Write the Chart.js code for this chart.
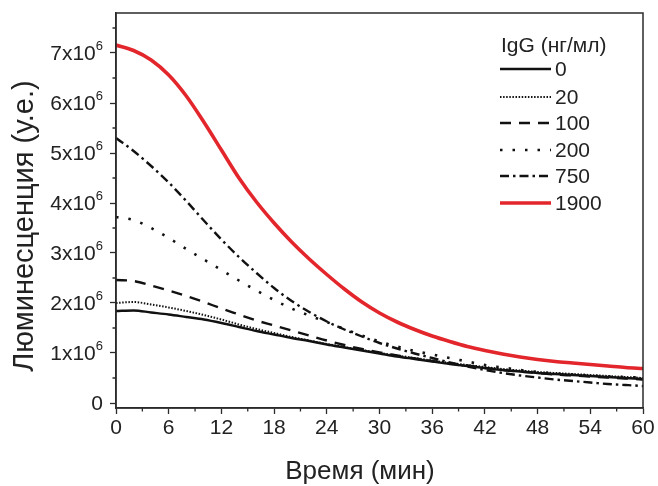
<!DOCTYPE html>
<html>
<head>
<meta charset="utf-8">
<script src="https://cdn.jsdelivr.net/npm/chart.js@4.4.1/dist/chart.umd.min.js"></script>
<style>
  html, body { margin: 0; padding: 0; background: #fff; }
  #wrap { width: 658px; height: 486px; }
</style>
</head>
<body>
<div id="wrap"><canvas id="grafico"></canvas></div>
<script>
// время, мин
const tempo = [0, 2, 4, 6, 8, 10, 12, 14, 16, 18, 20, 22, 24, 26, 28, 30,
  32, 34, 36, 38, 40, 42, 44, 46, 48, 50, 52, 54, 56, 58, 60];

// люминесценция, x10^6 у.е., по концентрации IgG (нг/мл)
const igg0 = [1.84, 1.85, 1.81, 1.77, 1.72, 1.67, 1.60, 1.52, 1.44, 1.37, 1.30, 1.24, 1.17, 1.11, 1.05, 0.99,
  0.93, 0.88, 0.83, 0.78, 0.74, 0.70, 0.66, 0.63, 0.60, 0.58, 0.56, 0.54, 0.52, 0.50, 0.48];
const igg20 = [2.00, 2.02, 1.97, 1.91, 1.84, 1.76, 1.67, 1.57, 1.48, 1.40, 1.32, 1.25, 1.18, 1.12, 1.06, 1.00,
  0.95, 0.90, 0.85, 0.80, 0.76, 0.72, 0.68, 0.65, 0.62, 0.60, 0.58, 0.56, 0.54, 0.52, 0.50];
const igg100 = [2.46, 2.44, 2.35, 2.25, 2.14, 2.02, 1.89, 1.77, 1.65, 1.55, 1.45, 1.35, 1.25, 1.16, 1.08, 1.01,
  0.95, 0.89, 0.84, 0.79, 0.75, 0.70, 0.66, 0.63, 0.60, 0.57, 0.55, 0.53, 0.51, 0.49, 0.47];
const igg200 = [3.72, 3.66, 3.50, 3.30, 3.08, 2.87, 2.66, 2.45, 2.25, 2.06, 1.89, 1.75, 1.62, 1.48, 1.35, 1.23,
  1.13, 1.04, 0.97, 0.90, 0.83, 0.76, 0.71, 0.66, 0.62, 0.59, 0.57, 0.55, 0.53, 0.52, 0.51];
const igg750 = [5.30, 5.04, 4.74, 4.41, 4.04, 3.65, 3.27, 2.92, 2.60, 2.30, 2.04, 1.82, 1.63, 1.47, 1.33, 1.20,
  1.09, 0.99, 0.90, 0.81, 0.73, 0.66, 0.60, 0.55, 0.51, 0.47, 0.44, 0.41, 0.38, 0.36, 0.34];
const igg1900 = [7.16, 7.05, 6.86, 6.56, 6.14, 5.62, 5.06, 4.50, 4.02, 3.60, 3.22, 2.88, 2.57, 2.28, 2.02, 1.80,
  1.62, 1.47, 1.34, 1.23, 1.13, 1.05, 0.98, 0.92, 0.87, 0.83, 0.80, 0.77, 0.74, 0.71, 0.69];

const rotulos = ["0", "20", "100", "200", "750", "1900"];
const yTicks = [0, 1, 2, 3, 4, 5, 6, 7];

const FONTE = "Arial, 'Liberation Sans', sans-serif";
const COR_EIXO = "#2b2b2b";

function serie(vals) {
  return vals.map((v, i) => ({ x: tempo[i], y: v }));
}

const estilos = [
  { dados: igg0, cor: "#111", largura: 2.4, traco: [] },
  { dados: igg20, cor: "#111", largura: 2, traco: [1.5, 1.6] },
  { dados: igg100, cor: "#111", largura: 2.4, traco: [11, 8] },
  { dados: igg200, cor: "#111", largura: 2.6, traco: [2.5, 10] },
  { dados: igg750, cor: "#111", largura: 2.4, traco: [9, 4, 2.5, 4] },
  { dados: igg1900, cor: "#e3262b", largura: 3.6, traco: [] },
];

// moldura, ticks menores, rótulos do eixo y com expoente, títulos e legenda
const extras = {
  id: "extras",
  afterDraw(chart) {
    const { ctx, chartArea: a, scales } = chart;
    const sx = scales.x, sy = scales.y;
    ctx.save();

    ctx.strokeStyle = COR_EIXO;
    ctx.lineWidth = 1.5;
    ctx.strokeRect(a.left, a.top, a.right - a.left, a.bottom - a.top);

    // ticks menores
    ctx.lineWidth = 1.3;
    ctx.beginPath();
    for (let t = 3; t < 60; t += 6) {
      const px = sx.getPixelForValue(t);
      ctx.moveTo(px, a.bottom);
      ctx.lineTo(px, a.bottom + 3.5);
    }
    for (let v = 0.5; v < 7.8; v += 1) {
      const py = sy.getPixelForValue(v);
      ctx.moveTo(a.left, py);
      ctx.lineTo(a.left - 3.5, py);
    }
    ctx.stroke();

    // rótulos y: Nx10^6
    ctx.fillStyle = "#222";
    ctx.textBaseline = "middle";
    ctx.textAlign = "right";
    const xr = a.left - 13;
    yTicks.forEach(v => {
      const py = sy.getPixelForValue(v) + 1;
      if (v === 0) {
        ctx.font = "21px " + FONTE;
        ctx.fillText("0", xr, py);
        return;
      }
      ctx.font = "13px " + FONTE;
      const wExp = ctx.measureText("6").width;
      ctx.fillText("6", xr, py - 8);
      ctx.font = "21px " + FONTE;
      ctx.fillText(v + "x10", xr - wExp, py);
    });

    // títulos dos eixos
    ctx.textAlign = "center";
    ctx.textBaseline = "alphabetic";
    ctx.font = "26px " + FONTE;
    ctx.fillText("Время (мин)", 360, 479);
    ctx.save();
    ctx.translate(33, 226);
    ctx.rotate(-Math.PI / 2);
    ctx.font = "29px " + FONTE;
    ctx.fillText("Люминесценция (у.е.)", 0, 0);
    ctx.restore();

    // legenda
    ctx.font = "21px " + FONTE;
    ctx.textAlign = "left";
    ctx.textBaseline = "middle";
    ctx.fillText("IgG (нг/мл)", 501, 46);
    const linhas = [69, 97, 123, 150, 176, 203];
    chart.data.datasets.forEach((ds, i) => {
      const y = linhas[i];
      ctx.strokeStyle = ds.borderColor;
      ctx.lineWidth = ds.borderWidth;
      ctx.setLineDash(ds.borderDash);
      ctx.beginPath();
      ctx.moveTo(500, y);
      ctx.lineTo(551, y);
      ctx.stroke();
      ctx.setLineDash([]);
      ctx.fillStyle = "#222";
      ctx.font = "21px " + FONTE;
      ctx.fillText(ds.label, 555, y + 1);
    });

    ctx.restore();
  }
};

new Chart(document.getElementById("grafico"), {
  type: "line",
  data: {
    datasets: estilos.map((e, i) => ({
      label: rotulos[i],
      data: serie(e.dados),
      borderColor: e.cor,
      borderWidth: e.largura,
      borderDash: e.traco,
      pointRadius: 0,
      fill: false,
      cubicInterpolationMode: "monotone",
    }))
  },
  options: {
    responsive: true,
    maintainAspectRatio: false,
    animation: false,
    layout: { padding: { left: 0, top: 13, right: 15, bottom: 0 } },
    plugins: { legend: { display: false }, tooltip: { enabled: false } },
    scales: {
      x: {
        type: "linear",
        min: 0,
        max: 60,
        afterFit: s => { s.height = 78; },
        ticks: { stepSize: 6, color: "#222", padding: 2, font: { size: 21, family: FONTE } },
        grid: { drawOnChartArea: false, tickLength: 6, tickColor: COR_EIXO, tickWidth: 1.3 },
        border: { color: COR_EIXO, width: 1.5 },
      },
      y: {
        min: -0.1,
        max: 7.8,
        afterFit: s => { s.width = 116; },
        afterBuildTicks: s => { s.ticks = yTicks.map(v => ({ value: v })); },
        ticks: { display: false },
        grid: { drawOnChartArea: false, tickLength: 6, tickColor: COR_EIXO, tickWidth: 1.3 },
        border: { color: COR_EIXO, width: 1.5 },
      }
    }
  },
  plugins: [extras]
});
</script>
</body>
</html>
